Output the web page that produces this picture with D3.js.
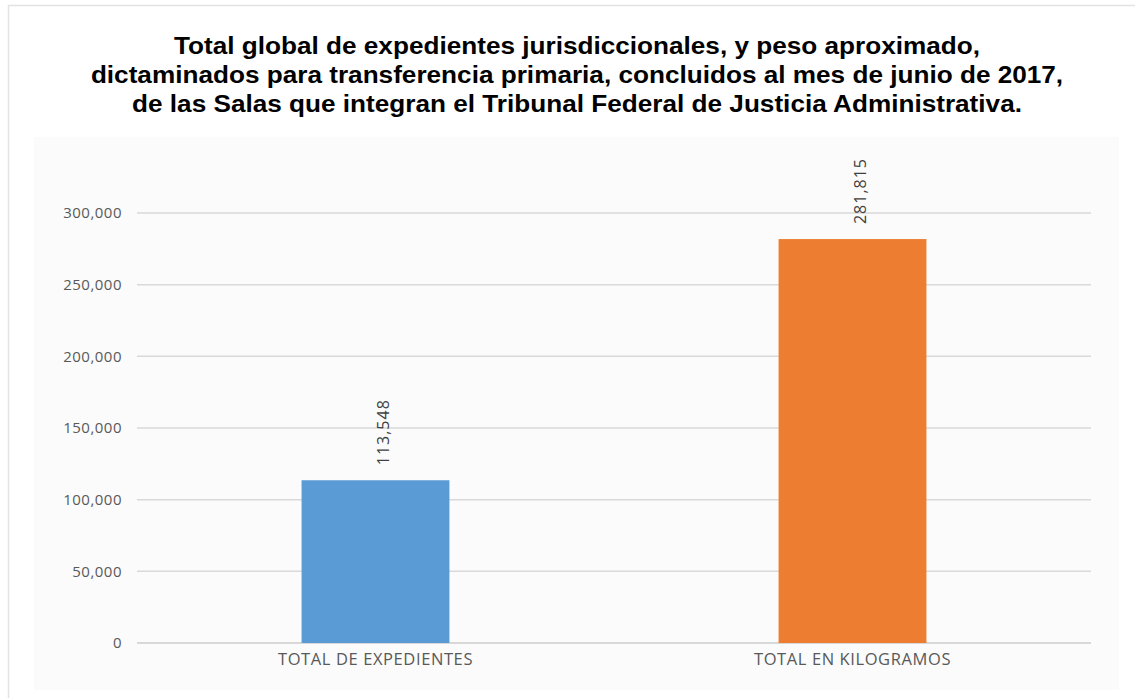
<!DOCTYPE html>
<html>
<head>
<meta charset="utf-8">
<script src="https://cdn.jsdelivr.net/npm/d3@7/dist/d3.min.js"></script>
<style>
  html, body { margin: 0; padding: 0; background: #ffffff; }
  svg { display: block; }
</style>
</head>
<body>
<script>
const titleLines = [
  "Total global de expedientes jurisdiccionales, y peso aproximado,",
  "dictaminados para transferencia primaria, concluidos al mes de junio de 2017,",
  "de las Salas que integran el Tribunal Federal de Justicia Administrativa."
];
const categories = ["TOTAL DE EXPEDIENTES", "TOTAL EN KILOGRAMOS"];
const values = [113548, 281815];
const colors = ["#5b9bd5", "#ed7d31"];
const yTicks = [0, 50000, 100000, 150000, 200000, 250000, 300000];

const W = 1135, H = 698;
const svg = d3.select("body").append("svg").attr("width", W).attr("height", H);

// outer frame
svg.append("rect").attr("x", 8.5).attr("y", 5.5).attr("width", W).attr("height", H)
  .attr("fill", "#ffffff").attr("stroke", "#e3e3e3").attr("stroke-width", 1.5);

// chart area background
svg.append("rect").attr("x", 34).attr("y", 137).attr("width", 1085).attr("height", 553)
  .attr("fill", "#fbfbfb");

// title
const title = svg.append("text").attr("text-anchor", "middle")
  .attr("transform", "translate(577,0) scale(1.09,1)")
  .attr("font-family", "Liberation Sans, Arial, sans-serif")
  .attr("font-weight", "bold").attr("font-size", 24).attr("fill", "#000");
titleLines.forEach((t, i) => {
  title.append("tspan").attr("x", 0).attr("y", 54 + i * 29).text(t);
});

const x = d3.scaleBand().domain(categories).range([137, 1091])
  .paddingInner(0.69).paddingOuter(0.345);
const y = d3.scaleLinear().domain([0, 300000]).range([643, 213]);

// gridlines
svg.append("g").selectAll("line").data(yTicks).join("line")
  .attr("x1", 137).attr("x2", 1091)
  .attr("y1", d => y(d)).attr("y2", d => y(d))
  .attr("stroke", d => d === 0 ? "#cccccc" : "#d9d9d9").attr("stroke-width", 1.5);

// y axis labels
const yAxis = d3.axisLeft(y).tickValues(yTicks).tickSize(0).tickPadding(0)
  .tickFormat(d3.format(","));
const gy = svg.append("g").attr("transform", "translate(122,0)").call(yAxis);
gy.select(".domain").remove();
gy.selectAll("text").attr("font-family", "Open Sans, sans-serif")
  .attr("font-size", 15).attr("letter-spacing", 0.5).attr("fill", "#595959");

// bars
svg.append("g").selectAll("rect").data(values).join("rect")
  .attr("x", (d, i) => x(categories[i]))
  .attr("width", x.bandwidth())
  .attr("y", d => y(d))
  .attr("height", d => y(0) - y(d))
  .attr("fill", (d, i) => colors[i]);

// value labels (rotated)
svg.append("g").selectAll("text").data(values).join("text")
  .attr("transform", (d, i) =>
    `translate(${x(categories[i]) + x.bandwidth() / 2 + 13},${y(d) - 15}) rotate(-90)`)
  .attr("text-anchor", "start")
  .attr("font-family", "Open Sans, sans-serif")
  .attr("font-size", 16).attr("letter-spacing", 1).attr("fill", "#404040")
  .text(d => d3.format(",")(d));

// x axis category labels
const xAxis = d3.axisBottom(x).tickSize(0).tickPadding(0);
const gx = svg.append("g").attr("transform", "translate(0,665)").call(xAxis);
gx.select(".domain").remove();
gx.selectAll("text").attr("dy", 0).attr("font-family", "Open Sans, sans-serif")
  .attr("font-size", 16.5).attr("letter-spacing", 0.6).attr("fill", "#595959");
</script>
</body>
</html>
